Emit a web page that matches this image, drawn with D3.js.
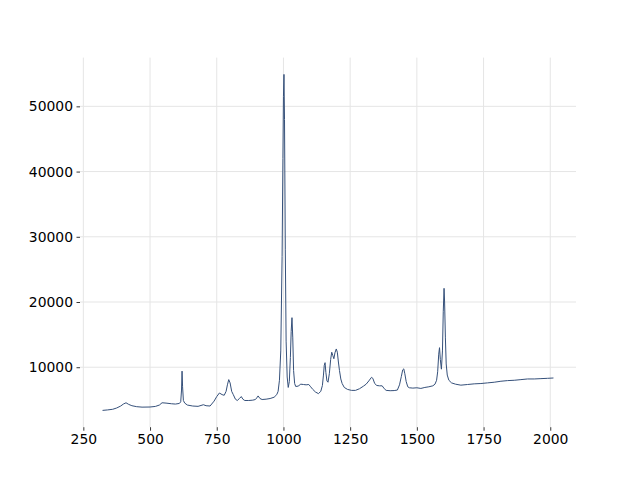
<!DOCTYPE html>
<html><head><meta charset="utf-8">
<script src="https://cdn.jsdelivr.net/npm/d3@7"></script>
<style>body{margin:0;background:#fff}svg{display:block}</style>
</head><body>
<svg id="c" width="640" height="480"></svg>
<script>
const wavenumber = [322,340,360,375,390,400,410,420,432,450,470,500,520,535,545,560,580,595,610,615,618,620,622,625,630,640,660,680,700,710,725,740,750,760,770,778,785,790,795,800,806,812,820,827,835,842,848,855,870,885,895,900,905,912,920,935,950,965,975,980,985,990,995,998,1000,1002,1004,1007,1010,1014,1018,1022,1026,1029,1032,1035,1038,1042,1046,1055,1065,1075,1085,1095,1102,1110,1120,1131,1140,1146,1150,1153,1156,1159,1163,1167,1172,1177,1181,1185,1189,1193,1198,1202,1206,1210,1215,1220,1228,1240,1255,1270,1285,1300,1310,1320,1330,1335,1342,1350,1360,1370,1378,1385,1400,1415,1427,1435,1442,1447,1451,1455,1460,1466,1472,1485,1500,1515,1530,1545,1560,1568,1574,1578,1582,1585,1588,1592,1596,1599,1602,1604,1607,1610,1614,1620,1630,1645,1665,1690,1715,1740,1765,1790,1815,1840,1865,1890,1915,1940,1965,1990,2012];
const intensity = [3380,3450,3550,3750,4050,4350,4550,4300,4100,3950,3880,3900,3990,4200,4550,4500,4400,4350,4450,4700,6500,9400,7000,4900,4500,4200,4050,4000,4250,4100,4050,4800,5500,6050,5800,5700,6300,7300,8100,7600,6300,5800,5100,4900,5200,5500,5100,4900,4900,4950,5050,5300,5600,5200,5050,5100,5200,5400,5800,6300,8000,12500,27000,42000,51500,54900,48000,28000,14000,8500,6900,7800,11500,15500,17600,14500,9500,7500,7050,7100,7400,7350,7300,7350,7000,6600,6200,5950,6300,7200,8800,10300,10700,9200,7900,7700,9000,11200,12300,11800,11300,12200,12800,12300,10800,9500,8200,7500,6900,6600,6450,6450,6700,7100,7400,7900,8450,8300,7500,7200,7150,7150,6700,6450,6400,6420,6500,7300,8600,9600,9750,9000,7800,7000,6850,6800,6850,6750,6900,7000,7150,7400,8000,9300,12000,13000,11200,9700,12500,18500,22100,20000,14500,10500,8800,8000,7600,7400,7250,7350,7450,7500,7600,7700,7850,7950,8000,8100,8200,8200,8250,8300,8350];
const xTicks = [250,500,750,1000,1250,1500,1750,2000];
const yTicks = [10000,20000,30000,40000,50000];

const W = 640, H = 480;
const m = {left: 80, right: 576, top: 57.6, bottom: 427.2};
const svg = d3.select("#c");

const xe = d3.extent(wavenumber), ye = d3.extent(intensity);
const xp = (xe[1]-xe[0])*0.05, yp = (ye[1]-ye[0])*0.05;
const x = d3.scaleLinear().domain([xe[0]-xp, xe[1]+xp]).range([m.left, m.right]);
const y = d3.scaleLinear().domain([ye[0]-yp, ye[1]+yp]).range([m.bottom, m.top]);

const font = "DejaVu Sans, sans-serif";
// grid
svg.append("g").selectAll("line").data(xTicks).join("line")
  .attr("x1", d=>x(d)).attr("x2", d=>x(d)).attr("y1", m.top).attr("y2", m.bottom)
  .attr("stroke", "#e5e5e5").attr("stroke-width", 1);
svg.append("g").selectAll("line").data(yTicks).join("line")
  .attr("y1", d=>y(d)).attr("y2", d=>y(d)).attr("x1", m.left).attr("x2", m.right)
  .attr("stroke", "#e5e5e5").attr("stroke-width", 1);

// axes
const xAxis = svg.append("g").attr("transform", `translate(0,${m.bottom})`)
  .call(d3.axisBottom(x).tickValues(xTicks).tickSize(3.5).tickPadding(3.5).tickFormat(d3.format("d")));
const yAxis = svg.append("g").attr("transform", `translate(${m.left},0)`)
  .call(d3.axisLeft(y).tickValues(yTicks).tickSize(3.5).tickPadding(3.5).tickFormat(d3.format("d")));
[xAxis, yAxis].forEach(a => {
  a.select(".domain").remove();
  a.selectAll(".tick line").attr("stroke", "#000").attr("stroke-width", 0.8);
  a.selectAll(".tick text").attr("fill", "#000").style("font-family", font).style("font-size", "13.9px");
});

// line
svg.append("path").datum(wavenumber.map((d,i)=>[d, intensity[i]]))
  .attr("fill", "none").attr("stroke", "#35507a").attr("stroke-width", 1)
  .attr("stroke-linejoin", "round")
  .attr("d", d3.line().x(d=>x(d[0])).y(d=>y(d[1])));
</script>
</body></html>
